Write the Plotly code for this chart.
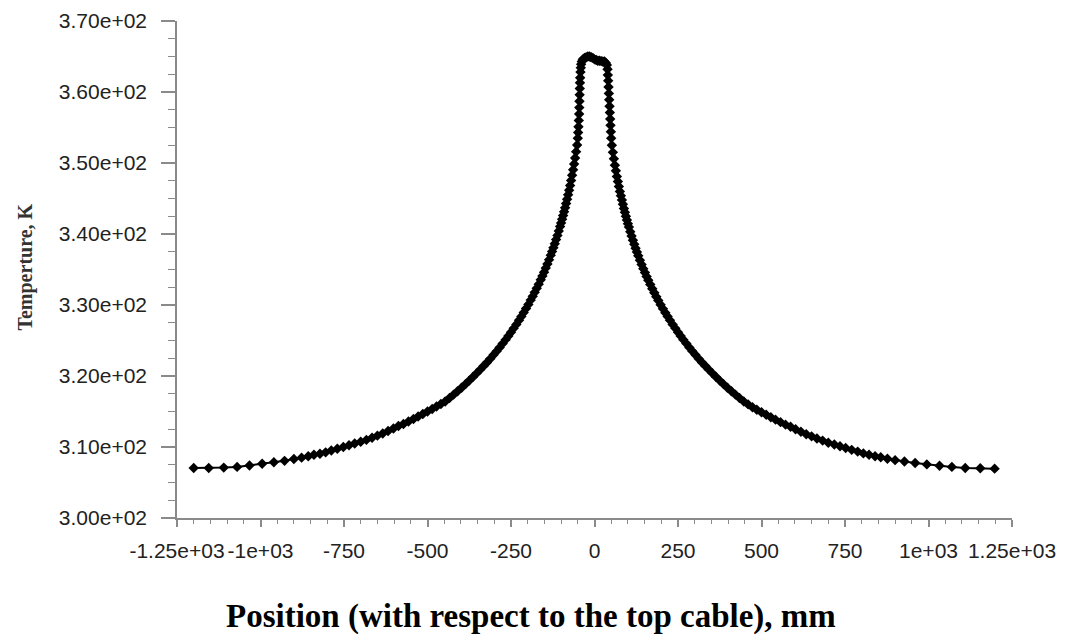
import plotly.graph_objects as go

# ---- data ----
x_left = [-1200, -1155, -1110, -1070, -1033, -995, -960, -928, -900, -877, -857, -840,
          -822, -805, -788, -770, -752, -735, -718, -700, -683, -666, -650, -634, -618,
          -602, -587, -572, -557, -542, -528, -514, -500, -486, -473, -460, -447, -434,
          -422, -410, -398, -386, -375, -364, -353, -342, -332, -322, -312, -302, -293,
          -284, -275, -266, -258, -250, -242, -234, -226, -219, -212, -205, -198, -191,
          -185, -179, -173, -167, -161, -156, -151, -146, -141, -136, -131, -127, -123,
          -119, -115, -111, -107, -103, -100, -97, -94, -91, -88, -85, -82, -79, -76,
          -73, -70, -67, -64, -61, -58, -55, -52, -50, -49, -48, -47, -46, -45.5, -45,
          -44.5, -44, -43.5, -43, -42, -41, -40, -38, -35, -30, -25, -20, -15, -10, -5]
t_left = [307.05, 307.05, 307.1, 307.2, 307.4, 307.65, 307.85, 308.05, 308.3, 308.5, 308.7,
          308.9, 309.05, 309.25, 309.5, 309.75, 310.0, 310.25, 310.5, 310.75, 311.0, 311.3,
          311.6, 311.9, 312.25, 312.6, 312.95, 313.25, 313.6, 313.95, 314.3, 314.65, 315.0,
          315.35, 315.7, 316.05, 316.4, 316.9, 317.37, 317.85, 318.35, 318.86, 319.35,
          319.85, 320.37, 320.9, 321.4, 321.9, 322.44, 322.99, 323.5, 324.02, 324.56,
          325.12, 325.63, 326.16, 326.71, 327.27, 327.86, 328.39, 328.93, 329.5, 330.08,
          330.69, 331.22, 331.78, 332.35, 332.94, 333.56, 334.09, 334.63, 335.2, 335.78,
          336.39, 337.02, 337.54, 338.08, 338.63, 339.21, 339.8, 340.42, 341.06, 341.56,
          342.07, 342.6, 343.14, 343.7, 344.29, 344.89, 345.52, 346.17, 346.84, 347.55,
          348.28, 349.05, 349.86, 350.71, 351.6, 352.54, 353.5, 354.3, 355.1, 356.0, 356.9,
          357.8, 358.7, 359.6, 360.5, 361.3, 362.0, 362.8, 363.4, 363.9, 364.3, 364.6,
          364.8, 364.9, 365.0, 365.0, 364.9, 364.8]

x_right = [0, 5, 10, 15, 20, 25, 30, 34, 37, 39, 40, 41, 42, 43, 44, 45, 46, 47, 48, 49,
           50, 52, 55, 58, 61, 64, 67, 70, 73, 76, 79, 82, 85, 88, 91, 94, 97, 100, 103,
           107, 111, 115, 119, 123, 127, 131, 136, 141, 146, 151, 156, 161, 167, 173, 179,
           185, 191, 198, 205, 212, 219, 226, 234, 242, 250, 258, 266, 275, 284, 293, 302,
           312, 322, 332, 342, 353, 364, 375, 386, 398, 410, 422, 434, 447, 460, 473, 486,
           500, 514, 528, 542, 557, 572, 587, 602, 618, 634, 650, 666, 683, 700, 718, 735,
           752, 770, 788, 805, 822, 840, 857, 877, 900, 928, 960, 995, 1033, 1070, 1110,
           1155, 1198]
t_right = [364.6, 364.5, 364.4, 364.4, 364.35, 364.3, 364.3, 364.1, 363.8, 363.2, 362.4,
           361.6, 360.7, 359.8, 358.9, 358.0, 357.1, 356.2, 355.3, 354.4, 353.5, 352.5,
           351.5, 350.6, 349.7, 348.9, 348.1, 347.4, 346.7, 346.0, 345.4, 344.8, 344.2,
           343.6, 343.05, 342.5, 341.97, 341.46, 340.97, 340.33, 339.71, 339.12, 338.55,
           338.0, 337.46, 336.94, 336.31, 335.7, 335.12, 334.56, 334.02, 333.49, 332.88,
           332.29, 331.72, 331.17, 330.64, 330.04, 329.46, 328.9, 328.37, 327.84, 327.26,
           326.71, 326.16, 325.63, 325.12, 324.56, 324.02, 323.5, 322.99, 322.44, 321.9,
           321.4, 320.9, 320.37, 319.85, 319.35, 318.86, 318.35, 317.85, 317.37, 316.9,
           316.4, 316.0, 315.6, 315.25, 314.9, 314.55, 314.2, 313.85, 313.5, 313.15, 312.85,
           312.5, 312.15, 311.8, 311.5, 311.2, 310.9, 310.6, 310.35, 310.1, 309.85, 309.6,
           309.35, 309.1, 308.9, 308.7, 308.55, 308.35, 308.15, 307.95, 307.75, 307.55,
           307.35, 307.2, 307.05, 307.0, 306.95]

x_tickvals = [-1250, -1000, -750, -500, -250, 0, 250, 500, 750, 1000, 1250]
x_ticktext = ["-1.25e+03", "-1e+03", "-750", "-500", "-250", "0", "250", "500", "750",
              "1e+03", "1.25e+03"]
y_tickvals = [300, 310, 320, 330, 340, 350, 360, 370]
y_ticktext = ["3.00e+02", "3.10e+02", "3.20e+02", "3.30e+02", "3.40e+02", "3.50e+02",
              "3.60e+02", "3.70e+02"]

x_title = "Position (with respect to the top cable), mm"
y_title = "Temperture, K"

x_all = x_left + x_right
t_all = t_left + t_right

fig = go.Figure()
fig.add_trace(go.Scatter(
    x=x_all, y=t_all, mode="lines+markers",
    line=dict(color="black", width=2),
    marker=dict(symbol="diamond", size=8, color="black"),
    showlegend=False,
))

axis_grey = "#8a8a8a"
tick_font = dict(family="Liberation Sans, Arial, sans-serif", size=21, color="#222222")

fig.update_xaxes(
    range=[-1250, 1250], tickmode="array", tickvals=x_tickvals, ticktext=x_ticktext,
    tickangle=0, automargin=False, showgrid=False, zeroline=False, showline=True,
    linecolor=axis_grey, linewidth=1.5, ticks="outside", ticklen=7, tickcolor=axis_grey,
    tickwidth=1.5, tickfont=tick_font, ticklabelstandoff=6, ticklabeloverflow="allow",
    minor=dict(dtick=50, ticks="outside", ticklen=4, tickcolor=axis_grey, tickwidth=1.2,
               showgrid=False),
)
fig.update_yaxes(
    range=[300, 370], tickmode="array", tickvals=y_tickvals, ticktext=y_ticktext,
    automargin=False, showgrid=False, zeroline=False, showline=True, linecolor=axis_grey,
    linewidth=1.5, ticks="outside", ticklen=14, tickcolor=axis_grey, tickwidth=1.5,
    tickfont=tick_font, ticklabelstandoff=10, ticklabeloverflow="allow",
    minor=dict(dtick=2.5, ticks="outside", ticklen=7, tickcolor=axis_grey, tickwidth=1.2,
               showgrid=False),
)

fig.add_annotation(
    text="<b>" + x_title + "</b>", xref="paper", yref="paper",
    x=0.424, y=-0.199, showarrow=False, xanchor="center", yanchor="middle",
    font=dict(family="Liberation Serif, Times New Roman, serif", size=33, color="black"),
)
fig.add_annotation(
    text="<b>" + y_title + "</b>", xref="paper", yref="paper",
    x=-0.182, y=0.504, showarrow=False, xanchor="center", yanchor="middle", textangle=-90,
    font=dict(family="Liberation Serif, Times New Roman, serif", size=20, color="#333333"),
)

# the page body adds an 8px offset, so the figure is 8px smaller with an 8px smaller left margin;
# the top margin leaves room for the top tick label
fig.update_layout(
    width=1058, height=635,
    margin=dict(l=169, r=54, t=13, b=125),
    paper_bgcolor="white", plot_bgcolor="white",
)

fig.write_html("out.html")
